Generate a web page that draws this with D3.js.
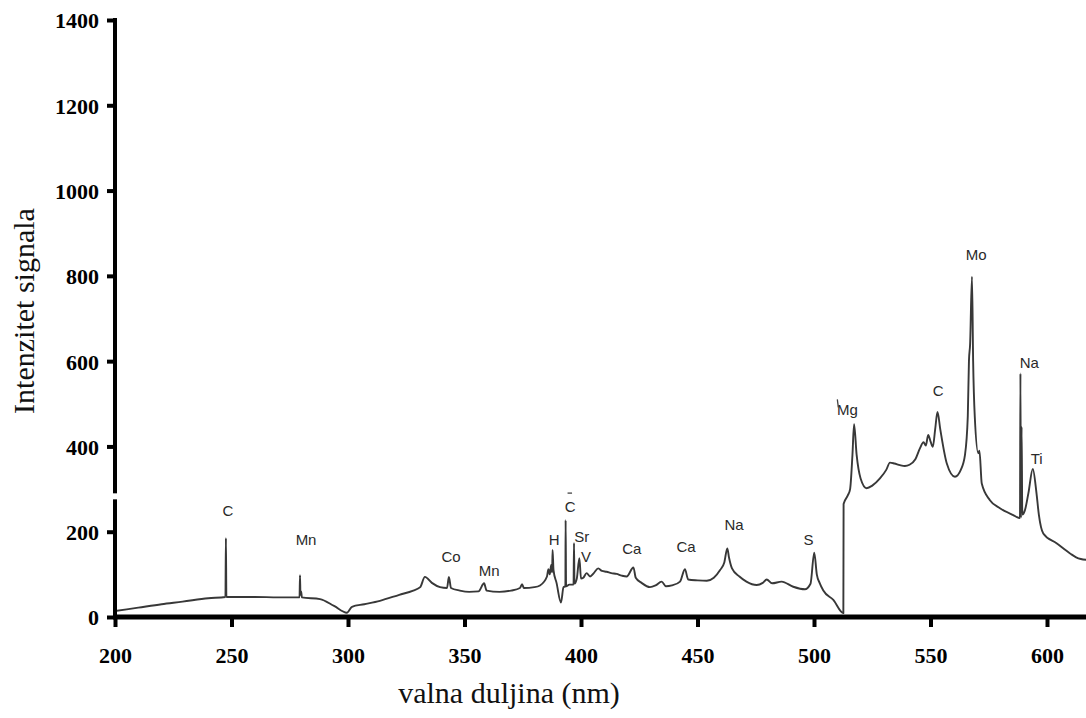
<!DOCTYPE html>
<html>
<head>
<meta charset="utf-8">
<script src="https://cdn.jsdelivr.net/npm/d3@7"></script>
<style>
  html, body { margin: 0; padding: 0; background: #fff; }
  svg { display: block; }
</style>
</head>
<body>
<svg id="chart" width="1086" height="718"></svg>
<script>
// ---- data ----
const wavelength = [
  200, 210, 220, 229, 240, 247.4, 247.6, 247.8, 260, 270, 279.2, 279.4, 279.6, 279.9, 280.2,
  288, 294, 299.5, 301.7, 307, 313.7, 322, 328, 331, 333, 336, 339.5, 342.5, 343.3, 344.2,
  348, 352, 356, 358.4, 359.5, 365, 370, 373.8, 374.7, 375.5, 380, 382.4, 385.4, 386, 386.6,
  387.2, 387.6, 387.8, 388.2, 389.5, 391.4, 392.5, 393.3, 393.4, 393.6, 395, 396.8, 397, 397.2,
  398.2, 399.3, 400, 401, 402.4, 403.9, 405.5, 407.4, 409, 411, 413, 415.3, 417.5, 419.6,
  422.5, 423.5, 426, 429.6, 432, 434.6, 436.5, 439, 442.5, 444.6, 446, 450, 454, 457, 459.7,
  461.5, 462.8, 463.5, 464.8, 468, 471, 475.4, 478, 479.7, 482, 486.1, 491.1, 496.1, 498.5,
  500.1, 501.2, 502.5, 504, 508.3, 512.6, 512.7, 514.5, 515.5, 516.5, 517.2, 518.3, 520,
  522.6, 525, 528.3, 531, 532.6, 534.5, 536.9, 539, 541, 543.5, 545.5, 547, 548, 549, 550,
  551, 552, 553, 554.2, 557, 560.5, 563, 564.8, 566, 566.5, 567, 567.8, 568.3, 569, 570.5,
  571, 572, 575.5, 579.8, 585.5, 588.4, 588.6, 588.8, 589.1, 589.4, 590.5, 592, 593.9,
  595.5, 596.5, 598.4, 604.1, 609.9, 612.5, 614.5, 617
];
const intensity = [
  14, 22, 30, 36, 44, 47, 185, 47, 47, 46, 46, 98, 52, 60, 46,
  42, 26, 10, 24, 30, 38, 52, 62, 70, 94, 80, 70, 68, 94, 68,
  62, 59, 60, 79, 62, 59, 62, 68, 77, 68, 70, 74, 95, 112, 100,
  122, 105, 157, 110, 80, 34, 70, 72, 227, 72, 76, 76, 173, 78,
  90, 138, 90, 92, 103, 95, 103, 114, 108, 106, 103, 101, 97, 95,
  116, 92, 80, 70, 74, 83, 72, 74, 83, 112, 88, 86, 85, 92, 110,
  128, 161, 140, 114, 95, 83, 75, 80, 88, 79, 83, 71, 65, 78,
  151, 100, 79, 62, 40, 9, 265, 285, 300, 380, 452, 380, 325,
  302, 308, 325, 345, 362, 360, 356, 354, 357, 370, 396, 410, 402, 427, 412,
  399, 440, 481, 440, 360, 329, 345, 380, 470, 600, 640, 798, 600, 470, 384,
  390, 313, 274, 255, 239, 232, 571, 232, 446, 240, 250, 290, 347,
  290, 240, 196, 173, 149, 140, 136, 134
];

const xTicks = [200, 250, 300, 350, 400, 450, 500, 550, 600];
const yTicks = [0, 200, 400, 600, 800, 1000, 1200, 1400];

const peakNames = ["C", "Mn", "Co", "Mn", "H", "C", "Sr", "V", "Ca", "Ca", "Na", "S", "Mg", "C", "Mo", "Na", "Ti"];
const peakNm    = [248.5, 282, 344.2, 360.6, 388.5, 395.3, 400.3, 402.1, 421.8, 445.1, 465.7, 497.6, 514.3, 553.3, 569.6, 592.4, 595.6];
const peakY     = [236, 168, 130, 97, 169, 246, 175, 130, 148, 152, 203, 169, 473, 519, 838, 583, 359];

const xLabel = "valna duljina (nm)";
const yLabel = "Intenzitet signala";

// ---- layout ----
const svg = d3.select("#chart");
const W = 1086, H = 718;
const mLeft = 115, mTop = 20, mBottom = 617;

const x = d3.scaleLinear().domain([200, 600]).range([mLeft, 1047]);
const y = d3.scaleLinear().domain([0, 1400]).range([mBottom, mTop]);

// clip for the spectrum
svg.append("defs").append("clipPath").attr("id", "plotclip")
  .append("rect").attr("x", mLeft).attr("y", 0).attr("width", W - mLeft).attr("height", mBottom);

// spectrum line
const pts = wavelength.map((w, i) => [w, intensity[i]]);
svg.append("path")
  .datum(pts)
  .attr("clip-path", "url(#plotclip)")
  .attr("fill", "none")
  .attr("stroke", "#383838")
  .attr("stroke-width", 1.9)
  .attr("stroke-linejoin", "round")
  .attr("d", d3.line().curve(d3.curveMonotoneX).x(d => x(d[0])).y(d => y(d[1])));

// peak labels
const lab = svg.append("g")
  .attr("font-family", "'Liberation Sans', Arial, sans-serif")
  .attr("font-size", 15)
  .attr("fill", "#2a2a2a")
  .attr("text-anchor", "middle");
peakNames.forEach((n, i) => {
  lab.append("text").attr("x", x(peakNm[i])).attr("y", y(peakY[i])).text(n);
});
// small bar over the second C and stroke before Mg (as in the reference)
lab.append("line")
  .attr("x1", x(peakNm[5]) - 2.5).attr("x2", x(peakNm[5]) + 2)
  .attr("y1", y(peakY[5]) - 19).attr("y2", y(peakY[5]) - 19)
  .attr("stroke", "#444").attr("stroke-width", 1.3);
lab.append("line")
  .attr("x1", x(peakNm[12]) - 10).attr("x2", x(peakNm[12]) - 9)
  .attr("y1", y(peakY[12]) - 16).attr("y2", y(peakY[12]) - 8)
  .attr("stroke", "#444").attr("stroke-width", 1.3);

// axes
const xAxis = d3.axisBottom(x).tickValues(xTicks).tickFormat(d3.format("d"))
  .tickSize(10).tickSizeOuter(0).tickPadding(20);
const yAxis = d3.axisLeft(y).tickValues(yTicks).tickFormat(d3.format("d"))
  .tickSize(8).tickSizeOuter(0).tickPadding(8);

const gx = svg.append("g").attr("transform", `translate(0,${mBottom})`).call(xAxis);
const gy = svg.append("g").attr("transform", `translate(${mLeft},0)`).call(yAxis);

[gx, gy].forEach(g => {
  g.select(".domain").remove();
  g.selectAll(".tick line").attr("stroke", "#000").attr("stroke-width", 4);
  g.selectAll(".tick text")
    .attr("font-family", "'Liberation Serif', 'Times New Roman', serif")
    .attr("font-weight", "bold")
    .attr("font-size", 22)
    .attr("fill", "#000");
});
gy.selectAll(".tick text").attr("dy", "0.36em");

// axis lines
svg.append("line").attr("x1", mLeft - 2).attr("x2", W).attr("y1", mBottom).attr("y2", mBottom)
  .attr("stroke", "#000").attr("stroke-width", 5);
svg.append("line").attr("x1", mLeft).attr("x2", mLeft).attr("y1", y(1400) - 2).attr("y2", mBottom + 2)
  .attr("stroke", "#000").attr("stroke-width", 4);
// break in the y axis
svg.append("rect").attr("x", mLeft - 4).attr("y", y(290)).attr("width", 8).attr("height", 6).attr("fill", "#fff");

// axis titles
svg.append("text")
  .attr("x", 509).attr("y", 703)
  .attr("text-anchor", "middle")
  .attr("font-family", "'Liberation Serif', 'Times New Roman', serif")
  .attr("font-size", 30)
  .attr("fill", "#111")
  .text(xLabel);
svg.append("text")
  .attr("transform", "translate(34,311) rotate(-90)")
  .attr("text-anchor", "middle")
  .attr("font-family", "'Liberation Serif', 'Times New Roman', serif")
  .attr("font-size", 30)
  .attr("fill", "#111")
  .text(yLabel);
</script>
</body>
</html>
